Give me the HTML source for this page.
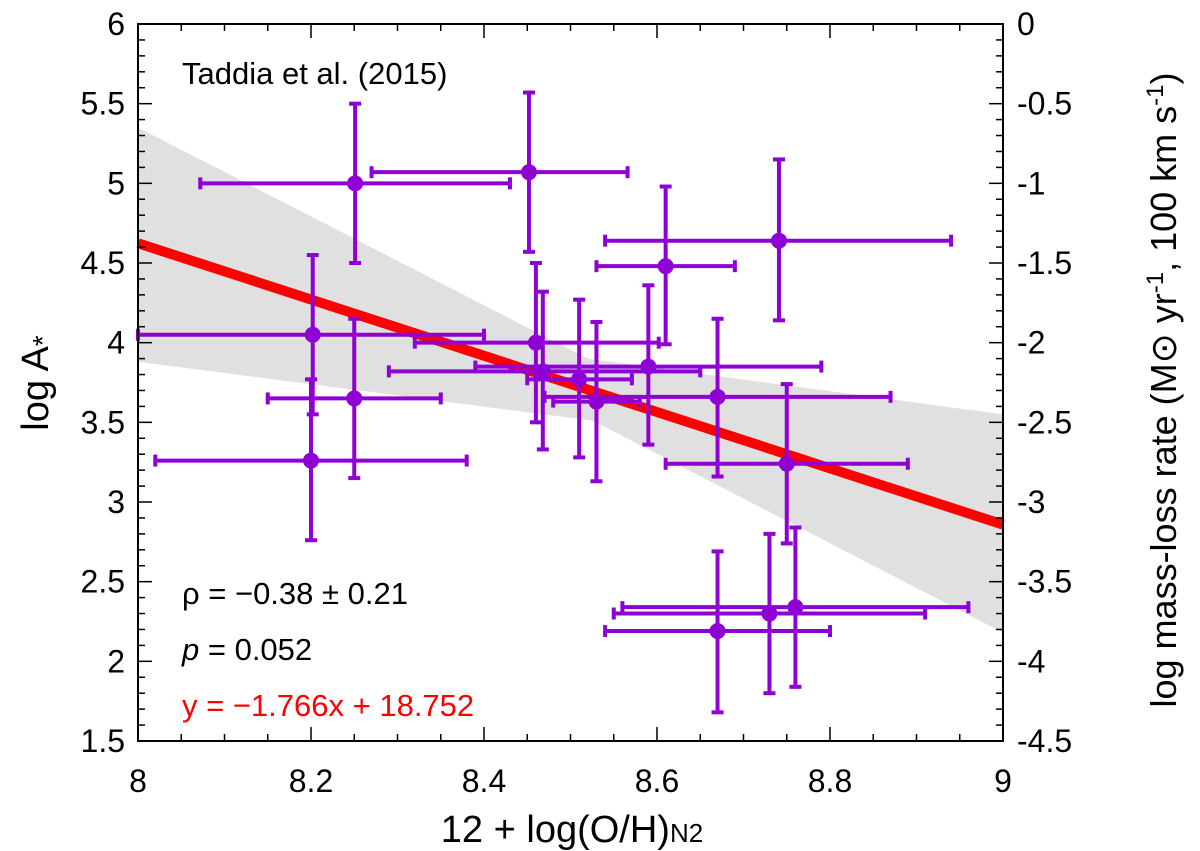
<!DOCTYPE html>
<html><head><meta charset="utf-8"><style>
html,body{margin:0;padding:0;background:#fff;}
svg{display:block;font-family:"Liberation Sans",Arial,sans-serif;}
</style></head><body>
<svg id="chart" width="1200" height="851" viewBox="0 0 1200 851"></svg>
<script>
const xVals=[8.251,8.452,8.741,8.61,8.202,8.46,8.25,8.2,8.468,8.51,8.53,8.59,8.67,8.75,8.67,8.73,8.76];
const yVals=[5.0,5.07,4.64,4.48,4.05,4.0,3.65,3.26,3.82,3.77,3.63,3.85,3.66,3.24,2.19,2.30,2.34];
const xLow=[8.072,8.27,8.54,8.53,8.0,8.32,8.15,8.02,8.29,8.45,8.48,8.39,8.47,8.61,8.54,8.55,8.56];
const xHigh=[8.43,8.566,8.94,8.69,8.40,8.602,8.35,8.38,8.65,8.571,8.58,8.79,8.87,8.89,8.80,8.91,8.96];
const yLow=[4.5,4.57,4.14,3.99,3.55,3.5,3.15,2.76,3.33,3.28,3.13,3.36,3.16,2.74,1.68,1.80,1.84];
const yHigh=[5.5,5.57,5.15,4.98,4.55,4.5,4.15,3.77,4.32,4.27,4.13,4.36,4.15,3.74,2.69,2.80,2.84];
const bandUpperX=[8.0,8.52,9.0];
const bandUpperY=[5.35,3.90,3.55];
const bandLowerX=[8.0,8.526,9.0];
const bandLowerY=[3.88,3.51,2.18];
const fitSlope=-1.766, fitIntercept=18.752;
const xTicks=[8,8.2,8.4,8.6,8.8,9];
const xTickLabels=["8","8.2","8.4","8.6","8.8","9"];
const yTicks=[1.5,2,2.5,3,3.5,4,4.5,5,5.5,6];
const yTickLabels=["1.5","2","2.5","3","3.5","4","4.5","5","5.5","6"];
const y2TickLabels=["-4.5","-4","-3.5","-3","-2.5","-2","-1.5","-1","-0.5","0"];

const L=138,R=1003,T=24,B=741;
const X=v=>L+(v-8)/(9-8)*(R-L);
const Y=v=>B-(v-1.5)/(6-1.5)*(B-T);
const NS="http://www.w3.org/2000/svg";
const svg=document.getElementById('chart');
function mk(tag,attrs,parent){const e=document.createElementNS(NS,tag);for(const k in attrs)e.setAttribute(k,attrs[k]);(parent||svg).appendChild(e);return e;}

let pts=bandUpperX.map((x,i)=>X(x)+','+Y(bandUpperY[i]));
for(let i=bandLowerX.length-1;i>=0;i--)pts.push(X(bandLowerX[i])+','+Y(bandLowerY[i]));
const band=mk('polygon',{points:pts.join(' '),fill:'#e0e0e0'});



const fit=mk('line',{x1:X(8),y1:Y(fitSlope*8+fitIntercept),x2:X(9),y2:Y(fitSlope*9+fitIntercept),stroke:'#ff0000','stroke-width':10});



const col='#8f00d4';
xVals.forEach((xv,i)=>{
  const g=mk('g',{stroke:col,'stroke-width':4,fill:col});
  
  
  const cx=X(xv),cy=Y(yVals[i]);
  mk('line',{x1:X(xLow[i]),y1:cy,x2:X(xHigh[i]),y2:cy},g);
  mk('line',{x1:X(xLow[i]),y1:cy-6,x2:X(xLow[i]),y2:cy+6},g);
  mk('line',{x1:X(xHigh[i]),y1:cy-6,x2:X(xHigh[i]),y2:cy+6},g);
  mk('line',{x1:cx,y1:Y(yLow[i]),x2:cx,y2:Y(yHigh[i])},g);
  mk('line',{x1:cx-6,y1:Y(yLow[i]),x2:cx+6,y2:Y(yLow[i])},g);
  mk('line',{x1:cx-6,y1:Y(yHigh[i]),x2:cx+6,y2:Y(yHigh[i])},g);
  mk('circle',{cx:cx,cy:cy,r:8,stroke:'none'},g);
});

const fr=mk('rect',{x:L,y:T,width:R-L,height:B-T,fill:'none',stroke:'#000','stroke-width':2});



const tg=mk('g',{stroke:'#000','stroke-width':1.5});


for(let k=0;k<=20;k++){const v=8+k*0.05,x=X(v),len=(k%4==0)?14:7;
  mk('line',{x1:x,y1:B,x2:x,y2:B-len},tg);mk('line',{x1:x,y1:T,x2:x,y2:T+len},tg);}
for(let k=0;k<=45;k++){const v=1.5+k*0.1,y=Y(v),len=(k%5==0)?14:7;
  mk('line',{x1:L,y1:y,x2:L+len,y2:y},tg);mk('line',{x1:R,y1:y,x2:R-len,y2:y},tg);}

xTicks.forEach((v,i)=>{const t=mk('text',{x:X(v),y:792,'font-size':32,'text-anchor':'middle'});t.textContent=xTickLabels[i];
  });
yTicks.forEach((v,i)=>{const t=mk('text',{x:L-13,y:Y(v)+11,'font-size':32,'text-anchor':'end'});t.textContent=yTickLabels[i];
  
  const t2=mk('text',{x:R+14,y:Y(v)+11,'font-size':32,'text-anchor':'start'});t2.textContent=y2TickLabels[i];
  });
</script>
<div style="position:absolute;left:0;top:0;width:1200px;height:851px;pointer-events:none;">
<svg width="1200" height="851" style="position:absolute;left:0;top:0" font-family="Liberation Sans, Arial, sans-serif">
<text x="182" y="84" font-size="31">Taddia et al. (2015)</text>
<text x="182" y="604" font-size="31">ρ = −0.38 ± 0.21</text>
<text x="182" y="660" font-size="31"><tspan font-style="italic">p</tspan> = 0.052</text>
<text x="182" y="716" font-size="31" fill="#ff0000">y = −1.766x + 18.752</text>
<text x="572" y="842" font-size="38" text-anchor="middle">12 + log(O/H)<tspan font-size="26">N2</tspan></text>
<text transform="translate(48,383) rotate(-90)" font-size="38" text-anchor="middle">log A<tspan font-size="28" dy="4">*</tspan></text>
<text transform="translate(1176,390) rotate(-90)" font-size="36" text-anchor="middle">log mass-loss rate (M⊙ yr<tspan font-size="24" dy="-13">-1</tspan><tspan dy="13">, 100 km s</tspan><tspan font-size="24" dy="-13">-1</tspan><tspan dy="13">)</tspan></text>
</svg></div>
</body></html>
